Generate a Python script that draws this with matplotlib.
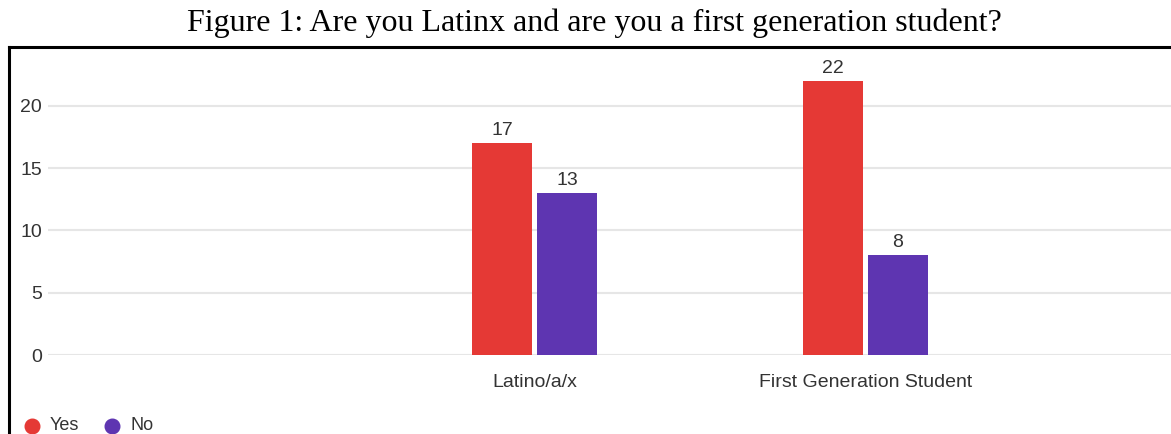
import matplotlib
matplotlib.use("Agg")
import matplotlib.pyplot as plt
from matplotlib.lines import Line2D
import numpy as np

categories = ["Latino/a/x", "First Generation Student"]
series_names = ["Yes", "No"]
yes_values = [17, 22]
no_values = [13, 8]
y_ticks = [0, 5, 10, 15, 20]

RED = "#e53935"
PURPLE = "#5e35b1"
TEXT = "#333333"
GRID = "#e6e6e6"
SANS = "Liberation Sans"

W, H = 1171, 434
fig = plt.figure(figsize=(W / 100, H / 100), dpi=100)
fig.patch.set_facecolor("white")

# axes placement in pixels
left_px, right_px, zero_px, top_px = 48, 1171, 355, 60
ax = fig.add_axes([left_px / W, (H - zero_px) / H,
                   (right_px - left_px) / W, (zero_px - top_px) / H])

px_per_unit = 62.3 / 5
ax.set_ylim(0, (zero_px - top_px) / px_per_unit)

group_px = 331.0
x0_px = 534.5
ax.set_xlim((left_px - x0_px) / group_px, (right_px - x0_px) / group_px)

x = np.arange(len(categories))
bw = 60 / group_px
gap = 5 / group_px
offset = (bw + gap) / 2

bars_yes = ax.bar(x - offset, yes_values, width=bw, color=RED, zorder=3, label=series_names[0])
bars_no = ax.bar(x + offset, no_values, width=bw, color=PURPLE, zorder=3, label=series_names[1])

for bars, vals in ((bars_yes, yes_values), (bars_no, no_values)):
    for b, v in zip(bars, vals):
        ax.annotate(str(v), (b.get_x() + b.get_width() / 2, v),
                    xytext=(0, 4), textcoords="offset pixels",
                    ha="center", va="bottom", fontsize=14,
                    family=SANS, color=TEXT, clip_on=False)

ax.set_yticks(y_ticks)
ax.set_yticklabels([str(t) for t in y_ticks], fontsize=14, family=SANS, color=TEXT)
ax.set_xticks(x)
ax.set_xticklabels(categories, fontsize=14, family=SANS, color=TEXT)
ax.tick_params(axis="y", length=0, pad=4.3)
ax.tick_params(axis="x", length=0, pad=14)

ax.grid(axis="y", color=GRID, linewidth=1.5, zorder=0)
for s in ax.spines.values():
    s.set_visible(False)

# legend row along the bottom
legend_y = (H - 426) / H
for name, color, cx, tx in ((series_names[0], RED, 31.5, 50), (series_names[1], PURPLE, 111.5, 131)):
    fig.add_artist(Line2D([cx / W], [legend_y], transform=fig.transFigure,
                          marker="o", linestyle="none", markersize=10.5, color=color))
    fig.text(tx / W, legend_y, name, ha="left", va="center", fontsize=13,
             family=SANS, color=TEXT)

# frame lines (left and top)
fig.add_artist(Line2D([9 / W, 9 / W], [(H - 47) / H, 0], transform=fig.transFigure,
                      color="black", linewidth=2.2, solid_capstyle="projecting"))
fig.add_artist(Line2D([9 / W, 1.0], [(H - 47) / H, (H - 47) / H], transform=fig.transFigure,
                      color="black", linewidth=2.2, solid_capstyle="projecting"))

fig.text(594 / W, (H - 23) / H, "Figure 1: Are you Latinx and are you a first generation student?",
         ha="center", va="center", fontsize=23, family="Liberation Serif", color="black")

fig.savefig("out.png", dpi=100, facecolor="white")
